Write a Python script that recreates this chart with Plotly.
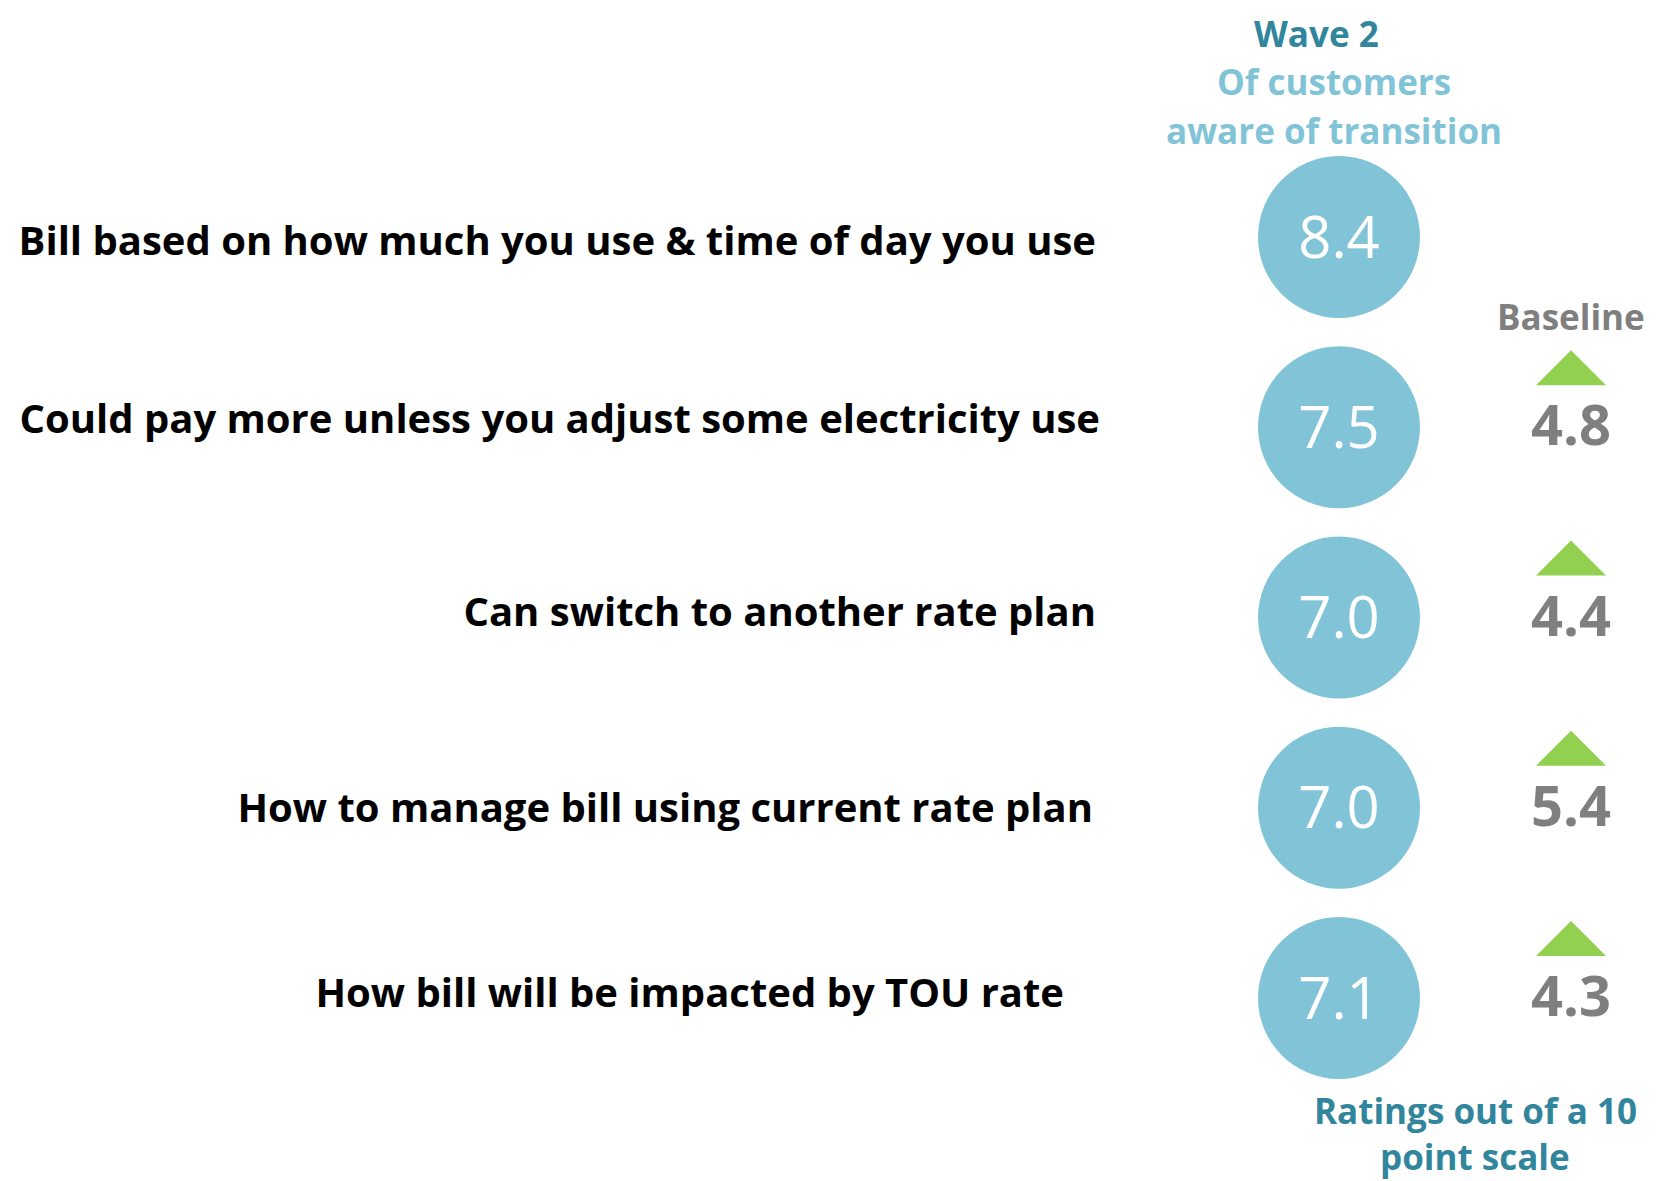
import plotly.graph_objects as go

# Survey items and ratings (out of 10)
ITEMS = [
    "Bill based on how much you use & time of day you use",
    "Could pay more unless you adjust some electricity use",
    "Can switch to another rate plan",
    "How to manage bill using current rate plan",
    "How bill will be impacted by TOU rate",
]
WAVE2 = [8.4, 7.5, 7.0, 7.0, 7.1]
BASELINE = [None, 4.8, 4.4, 5.4, 4.3]

FONT = "Open Sans"
CIRCLE_COLOR = "#81C4D7"
TEAL_DARK = "#31859C"
TEAL_LIGHT = "#81C4D7"
GRAY = "#7F7F7F"
GREEN = "#92D050"

W, H = 1666, 1181
PAGE_OFFSET = 8  # default body margin of the html page
ROW_TOP, ROW_STEP = 237, 190.25  # pixel centre of first row, row spacing

# column x positions (page pixels on the x axis) and small label nudges
LABEL_RIGHT = [1096, 1100, 1096, 1093, 1064]
LABEL_DY = [8, -4, -2, 4, -1]
WAVE_X = 1339
BASE_X = 1571

rows = list(range(len(ITEMS)))
px = 1.0 / ROW_STEP  # one pixel in row units

fig = go.Figure()

# item labels
fig.add_trace(go.Scatter(
    x=LABEL_RIGHT, y=[r + d * px for r, d in zip(rows, LABEL_DY)],
    mode="text", text=ITEMS, textposition="middle left",
    textfont=dict(family=FONT, size=40, color="#000000", weight="bold"),
    hoverinfo="skip",
))

# wave 2 circles
fig.add_trace(go.Scatter(
    x=[WAVE_X] * len(rows), y=rows, mode="markers",
    marker=dict(symbol="circle", size=162, color=CIRCLE_COLOR, line=dict(width=0)),
    hoverinfo="skip",
))
fig.add_trace(go.Scatter(
    x=[WAVE_X] * len(rows), y=[r + 6 * px for r in rows], mode="text",
    text=[f"{v:.1f}" for v in WAVE2], textposition="middle center",
    textfont=dict(family=FONT, size=58, color="#FFFFFF"),
    hoverinfo="skip",
))

# green up-triangles where wave 2 beats baseline
tri_x, tri_y = [], []
for r, (w, b) in enumerate(zip(WAVE2, BASELINE)):
    if b is None or w <= b:
        continue
    base = r - 42 * px
    tri_x += [BASE_X - 35, BASE_X + 35, BASE_X, BASE_X - 35, None]
    tri_y += [base, base, base - 35 * px, base, None]
fig.add_trace(go.Scatter(
    x=tri_x, y=tri_y, mode="lines", fill="toself", fillcolor=GREEN,
    line=dict(width=0, color=GREEN), hoverinfo="skip",
))

# baseline values
b_rows = [r for r, b in zip(rows, BASELINE) if b is not None]
fig.add_trace(go.Scatter(
    x=[BASE_X] * len(b_rows), y=[r + 4 * px for r in b_rows], mode="text",
    text=[f"{b:.1f}" for b in BASELINE if b is not None],
    textposition="middle center",
    textfont=dict(family=FONT, size=56, color=GRAY, weight="bold"),
    hoverinfo="skip",
))


def note(text, x, ypix, size, color):
    fig.add_annotation(
        x=x, y=(ypix - ROW_TOP) * px, xref="x", yref="y", text=text,
        showarrow=False, xanchor="center", yanchor="middle", borderpad=0,
        font=dict(family=FONT, size=size, color=color, weight="bold"),
    )


note("Wave 2", 1316, 33, 35, TEAL_DARK)
note("Of customers", 1334, 81, 35, TEAL_LIGHT)
note("aware of transition", 1334, 130, 35, TEAL_LIGHT)
note("Baseline", 1571, 316, 35, GRAY)
note("Ratings out of a 10", 1475, 1110, 35, TEAL_DARK)
note("point scale", 1475, 1156, 35, TEAL_DARK)

fig.update_layout(
    width=W, height=H,
    margin=dict(l=0, r=0, t=0, b=0),
    paper_bgcolor="white", plot_bgcolor="white",
    showlegend=False,
    xaxis=dict(range=[PAGE_OFFSET, W + PAGE_OFFSET], visible=False, fixedrange=True),
    yaxis=dict(range=[(H + PAGE_OFFSET - ROW_TOP) * px, (PAGE_OFFSET - ROW_TOP) * px],
               visible=False, fixedrange=True),
)

fig.write_html("out.html")
